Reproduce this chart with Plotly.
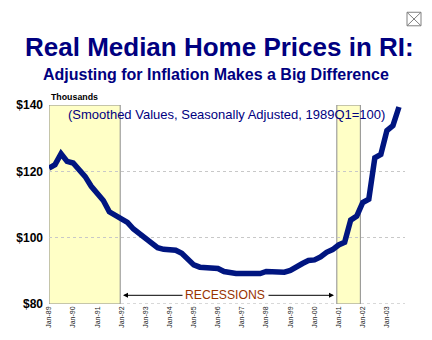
import plotly.graph_objects as go

# Quarterly index, 1989Q1 = 0
values = [121.0, 122.0, 125.3, 123.0, 122.5, 120.7, 118.4, 115.5,
          113.3, 111.2, 107.8, 106.8, 105.9, 104.6, 102.6, 101.2,
          100.0, 98.7, 97.0, 96.5, 96.3, 96.2, 95.3, 93.6,
          91.8, 91.1, 91.1, 91.0, 90.7, 89.8, 89.3, 89.2,
          89.2, 89.3, 89.1, 89.2, 89.8, 89.7, 89.4, 89.6,
          90.1, 91.4, 92.2, 93.1, 93.3, 94.2, 95.6, 96.4,
          97.8, 98.6, 105.3, 106.5, 110.6, 111.6, 124.1, 125.1,
          132.3, 133.8, 139.4]
quarters = list(range(len(values)))

tick_labels = ["Jan-89", "Jan-90", "Jan-91", "Jan-92", "Jan-93", "Jan-94", "Jan-95",
               "Jan-96", "Jan-97", "Jan-98", "Jan-99", "Jan-00", "Jan-01", "Jan-02", "Jan-03"]
tick_positions = [4 * i for i in range(len(tick_labels))]

y_ticks = [80, 100, 120, 140]
y_tick_labels = ["$80", "$100", "$120", "$140"]

# Recession periods (quarter index start, end)
recession_start = [0, 47.7]
recession_end = [11.8, 51.6]

FONT = "Liberation Sans, Arial, sans-serif"
NAVY = "#000080"

L, R, T, B = 49, 27, 105, 29
W, H = 432, 340
PW, PH = W - L - R, H - T - B


def px(x):
    return (x - L) / PW


def py(y):
    return (H - B - y) / PH


fig = go.Figure()

for s, e in zip(recession_start, recession_end):
    fig.add_shape(type="rect", xref="x", yref="y", x0=s, x1=e, y0=80, y1=140,
                  fillcolor="#FFFFC6", line=dict(color="#8c8c8c", width=1), layer="below")

fig.add_trace(go.Scatter(x=quarters, y=values, mode="lines",
                         line=dict(color="#001580", width=5.5), hoverinfo="skip"))

# bottom axis line (dotted)
fig.add_shape(type="line", xref="paper", yref="y", x0=0, x1=1, y0=80, y1=80,
              line=dict(color="#b0b0b0", width=1, dash="dot"), layer="below")

annotations = [
    dict(text="<b>Real Median Home Prices in RI:</b>", x=px(219), y=py(45),
         font=dict(size=26, color=NAVY, family=FONT)),
    dict(text="<b>Adjusting for Inflation Makes a Big Difference</b>", x=px(216), y=py(73),
         font=dict(size=16, color=NAVY, family=FONT)),
    dict(text="<b>Thousands</b>", x=px(49), y=py(97), xanchor="left",
         font=dict(size=8.8, color="#000000", family=FONT)),
    dict(text="(Smoothed Values, Seasonally Adjusted, 1989Q1=100)", x=px(226), y=py(115),
         font=dict(size=13, color=NAVY, family=FONT)),
    dict(text="RECESSIONS", x=px(225), y=py(302),
         font=dict(size=12.2, color="#993300", family=FONT)),
]
for a in annotations:
    a.setdefault("xanchor", "center")
    a.update(xref="paper", yref="paper", yanchor="middle", showarrow=False)
    fig.add_annotation(**a)

# arrows
fig.add_annotation(xref="paper", yref="paper", x=px(123), y=py(302), ax=61, ay=0,
                   text="", showarrow=True, arrowhead=2, arrowsize=1, arrowwidth=1,
                   arrowcolor="#000000")
fig.add_annotation(xref="paper", yref="paper", x=px(334), y=py(302), ax=-67, ay=0,
                   text="", showarrow=True, arrowhead=2, arrowsize=1, arrowwidth=1,
                   arrowcolor="#000000")

# broken-image icon at top right
fig.add_shape(type="rect", xref="paper", yref="paper", x0=px(407), x1=px(421),
              y0=py(23), y1=py(9), line=dict(color="#808080", width=1))
fig.add_shape(type="line", xref="paper", yref="paper", x0=px(407), x1=px(421),
              y0=py(23), y1=py(9), line=dict(color="#808080", width=1))
fig.add_shape(type="line", xref="paper", yref="paper", x0=px(407), x1=px(421),
              y0=py(9), y1=py(23), line=dict(color="#808080", width=1))

fig.update_layout(
    width=W, height=H,
    margin=dict(l=L, r=R, t=T, b=B, pad=0),
    paper_bgcolor="white", plot_bgcolor="white",
    showlegend=False,
    font=dict(family=FONT),
    xaxis=dict(range=[0, 59], tickmode="array", tickvals=tick_positions, ticktext=tick_labels,
               tickangle=-90, tickfont=dict(size=7, color="#1a1a1a", family=FONT),
               showgrid=False, zeroline=False, showline=False, ticks="", fixedrange=True),
    yaxis=dict(range=[80, 140], tickmode="array", tickvals=y_ticks,
               ticktext=["<b>%s</b>" % t for t in y_tick_labels],
               tickfont=dict(size=12, color="#000000", family=FONT),
               showgrid=True, gridcolor="#c8c8c8", griddash="dot", gridwidth=1,
               zeroline=False, showline=False, ticks="", ticklabelstandoff=5, fixedrange=True),
)

fig.write_html("out.html")
